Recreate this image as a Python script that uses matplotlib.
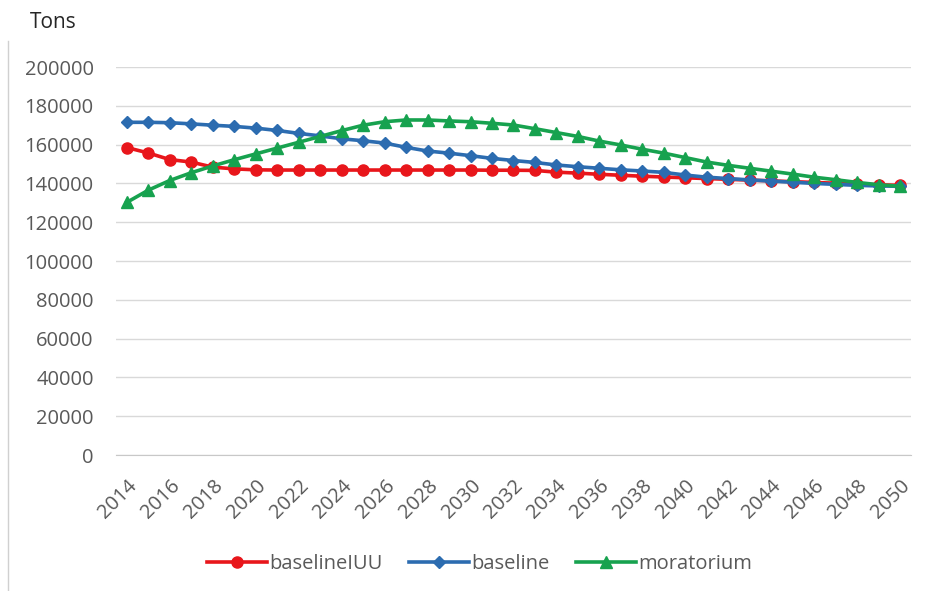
import matplotlib.pyplot as plt
from matplotlib.lines import Line2D

plt.rcParams['font.family'] = ['Open Sans', 'DejaVu Sans']

years = list(range(2014, 2051))

baseline_iuu = [158500, 155700, 152300, 151000, 148400, 147500, 147000, 146900, 146900, 146900,
                146900, 146900, 146900, 146900, 146900, 146900, 146900, 146800, 146800, 146700,
                145800, 145300, 144700, 144200, 143700, 143300, 142900, 142500, 142100, 141700,
                141300, 140900, 140500, 140100, 139700, 139300, 139000]

baseline = [171500, 171500, 171300, 170700, 170000, 169400, 168500, 167300, 165800, 164500,
            163000, 162000, 160800, 158600, 156700, 155600, 154300, 152900, 151800, 150800,
            149500, 148600, 147800, 147000, 146400, 145700, 144300, 143200, 142500, 141800,
            141200, 140600, 140000, 139500, 139000, 138700, 138500]

moratorium = [130200, 136500, 141500, 145500, 149000, 152200, 155200, 158200, 161200, 164200,
              167200, 170000, 171800, 172700, 172700, 172200, 171800, 171000, 170100, 168200,
              166200, 164200, 161800, 159800, 157600, 155600, 153300, 151000, 149300, 147800,
              146300, 144800, 143200, 141900, 140500, 139300, 138500]

names = ['baselineIUU', 'baseline', 'moratorium']
colors = ['#e8161b', '#2c6cb0', '#17a24f']
markers = ['o', 'D', '^']
msizes = [8, 6.5, 8.5]

fig = plt.figure(figsize=(9.31, 5.91), dpi=100)
ax = fig.add_axes([0.1246, 0.2301, 0.8539, 0.6565])

for vals, c, m, ms in zip([baseline_iuu, baseline, moratorium], colors, markers, msizes):
    ax.plot(years, vals, color=c, lw=2.6, marker=m, markersize=ms, zorder=3)

ax.set_xlim(2013.5, 2050.5)
ax.set_ylim(0, 200000)
ax.set_yticks(range(0, 200001, 20000))
ax.set_xticks(years[::2])
ax.set_xticklabels([str(y) for y in years[::2]], rotation=45, ha='right',
                   rotation_mode='anchor')
ax.grid(axis='y', color='#d9d9d9', lw=1)
for s in ['top', 'right', 'left']:
    ax.spines[s].set_visible(False)
ax.spines['bottom'].set_color('#c8c8c8')
ax.tick_params(axis='both', length=0, labelsize=14.5, colors='#595959')
ax.tick_params(axis='y', pad=16)
ax.tick_params(axis='x', pad=15)

fig.text(0.032, 0.962, 'Tons', fontsize=15, color='#262626', va='center')

# legend with lines and markers like the series
handles = [Line2D([], [], color=c, lw=2.6, marker=m, markersize=ms)
           for c, m, ms in zip(colors, markers, msizes)]
leg = fig.legend(handles, names, loc='center', bbox_to_anchor=(0.515, 0.045), ncol=3,
                 frameon=False, fontsize=14.5, handlelength=3.0, handletextpad=0.1,
                 columnspacing=1.3)
for t in leg.get_texts():
    t.set_color('#595959')

# thin frame line on the left edge
fig.add_artist(Line2D([0.009, 0.009], [0.0, 0.93], color='#d0d0d0', lw=1))

fig.savefig('out.png', dpi=100)
